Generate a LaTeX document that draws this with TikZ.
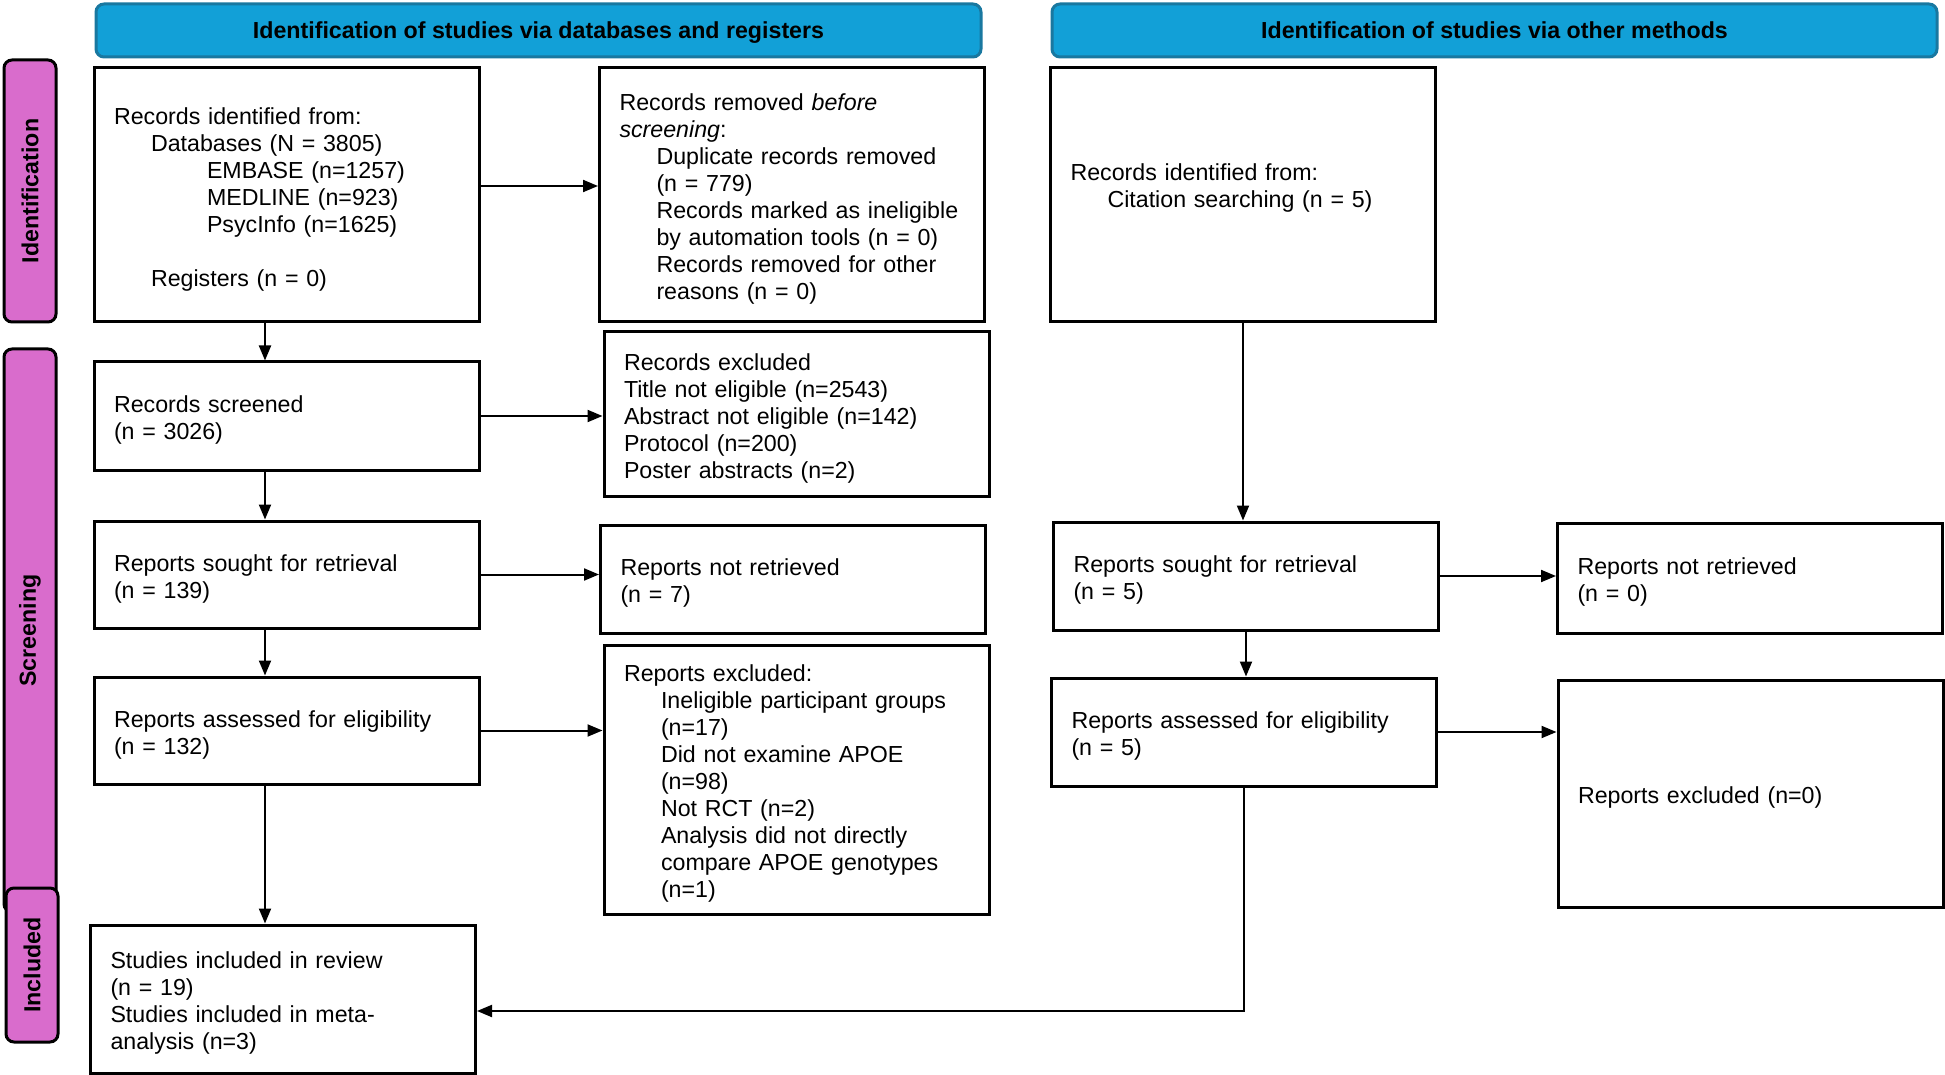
\documentclass[tikz,border=0pt]{standalone}
\usepackage{fontspec}
\setmainfont{Liberation Sans}
\usetikzlibrary{arrows.meta}
\definecolor{headblue}{RGB}{18,160,215}
\definecolor{headedge}{RGB}{25,120,160}
\definecolor{tabpink}{RGB}{217,108,204}
\newcommand{\indA}{\hspace*{18.5pt}}
\newcommand{\indB}{\hspace*{46.5pt}}
\begin{document}
\begin{tikzpicture}[x=0.5pt,y=-0.5pt,
    box/.style={draw, line width=1.5pt, align=left, text width=172.5pt,
      inner xsep=10pt, inner ysep=0pt, minimum width=192.5pt,
      font=\fontsize{11.6}{13.5}\selectfont,
      execute at begin node={\rule{0pt}{12.8pt}}},
    head/.style={draw=headedge, fill=headblue, line width=1.5pt, rounded corners=4pt,
      minimum width=442.5pt, minimum height=26.5pt, text height=10.5pt, text depth=2.4pt,
      font=\fontsize{11.6}{13.5}\selectfont\bfseries},
    tab/.style={draw, fill=tabpink, line width=1.5pt, rounded corners=4pt, rotate=90,
      minimum height=26pt, font=\fontsize{11.6}{13.5}\selectfont\bfseries},
    arr/.style={-{Triangle[length=7.5pt,width=6pt]}, line width=1pt}]
    \useasboundingbox (0,0) rectangle (1945,1075);
    % headers and phase tabs
    \node[head] (hdb) at (538.5,30.5) {Identification of studies via databases and registers};
    \node[head] (hot) at (1494.5,30.5) {Identification of studies via other methods};
    \node[tab, minimum width=131pt] (tid) at (30,191) {Identification};
    \node[tab, minimum width=281.5pt] (tsc) at (30,630.5) {Screening};
    \node[tab, minimum width=77pt] (tin) at (32,965) {Included};
    % databases and registers
    \node[box, minimum height=127pt] (a) at (286.5,195) {Records identified from:\\
      \indA Databases (N = 3805)\\ \indB EMBASE (n=1257)\\ \indB MEDLINE (n=923)\\
      \indB PsycInfo (n=1625)\\[13.5pt] \indA Registers (n = 0)};
    \node[box, minimum height=127pt] (b) at (792,195) {Records removed \emph{before}\\
      \emph{screening}:\\ \indA Duplicate records removed\\ \indA (n = 779)\\
      \indA Records marked as ineligible\\ \indA by automation tools (n = 0)\\
      \indA Records removed for other\\ \indA reasons (n = 0)};
    \node[box, minimum height=54pt] (c) at (286.5,416) {Records screened\\ (n = 3026)};
    \node[box, minimum height=82pt] (d) at (796.5,414) {Records excluded\\
      Title not eligible (n=2543)\\ Abstract not eligible (n=142)\\
      Protocol (n=200)\\ Poster abstracts (n=2)};
    \node[box, minimum height=53.5pt] (e) at (286.5,574.5) {Reports sought for retrieval\\ (n = 139)};
    \node[box, minimum height=54pt] (f) at (793,579) {Reports not retrieved\\ (n = 7)};
    \node[box, minimum height=53.5pt] (g) at (286.5,730.5) {Reports assessed for eligibility\\ (n = 132)};
    \node[box, minimum height=134.5pt] (h) at (796.5,779.5) {Reports excluded:\\
      \indA Ineligible participant groups\\ \indA (n=17)\\
      \indA Did not examine APOE\\ \indA (n=98)\\ \indA Not RCT (n=2)\\
      \indA Analysis did not directly\\ \indA compare APOE genotypes\\ \indA (n=1)};
    \node[box, minimum height=74pt] (i) at (283,999) {Studies included in review\\
      (n = 19)\\ Studies included in meta-\\ analysis (n=3)};
    % other methods
    \node[box, minimum height=127pt] (j) at (1243,195) {Records identified from:\\
      \indA Citation searching (n = 5)\\ \mbox{}};
    \node[box, minimum height=54pt] (k) at (1246,576) {Reports sought for retrieval\\ (n = 5)};
    \node[box, minimum height=55pt] (l) at (1750,578) {Reports not retrieved\\ (n = 0)};
    \node[box, minimum height=54pt] (m) at (1244,732) {Reports assessed for eligibility\\ (n = 5)};
    \node[box, minimum height=113.5pt] (n) at (1750.5,793.5) {Reports excluded (n=0)};
    % arrows
    \draw[arr] ([yshift=4.5pt]a.east) -- ([yshift=4.5pt]a.east -| b.west);
    \draw[arr] (c.east) -- (c.east -| d.west);
    \draw[arr] (e.east) -- (e.east -| f.west);
    \draw[arr] (g.east) -- (g.east -| h.west);
    \draw[arr] ([xshift=-10.75pt]a.south) -- ([xshift=-10.75pt]c.north);
    \draw[arr] ([xshift=-10.75pt]c.south) -- ([xshift=-10.75pt]e.north);
    \draw[arr] ([xshift=-10.75pt]e.south) -- ([xshift=-10.75pt]g.north);
    \draw[arr] ([xshift=-10.75pt]g.south) -- ([xshift=-10.75pt]g.south |- i.north);
    \draw[arr] (j.south) -- (j.south |- k.north);
    \draw[arr] (k.south) -- (k.south |- m.north);
    \draw[arr] (k.east) -- (k.east -| l.west);
    \draw[arr] (m.east) -- (m.east -| n.west);
    \draw[arr] (m.south) |- ([yshift=-6pt]i.east);
\end{tikzpicture}
\end{document}
